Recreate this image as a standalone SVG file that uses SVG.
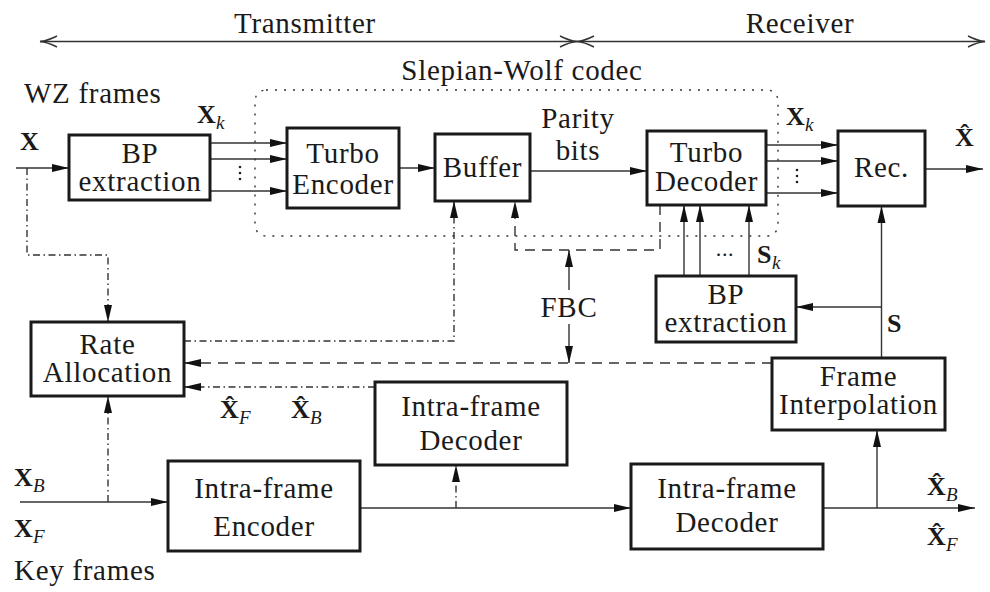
<svg xmlns="http://www.w3.org/2000/svg" width="990" height="592" viewBox="0 0 990 592" font-family="'Liberation Serif','DejaVu Serif',serif">
<style>
text{font-family:"Liberation Serif","DejaVu Serif",serif;fill:#1a1a1a}
.t{font-size:29px;text-anchor:middle;letter-spacing:0.7px}
.tl{font-size:29px;letter-spacing:0.7px}
.m{font-size:26px;font-weight:bold}
.s{font-size:19px;font-style:italic;font-weight:normal}
.box{fill:#fff;stroke:#1a1a1a;stroke-width:3}
.c{fill:none;stroke:#333;stroke-width:1.4}
.dd{stroke-dasharray:7 3.5 1.5 3.5}
.da{stroke-dasharray:10 7}
.dot{fill:none;stroke:#333;stroke-width:1.4;stroke-dasharray:2 7}
</style>
<defs>
<marker id="a" markerUnits="userSpaceOnUse" markerWidth="18" markerHeight="10" viewBox="0 0 18 10" refX="17" refY="5" orient="auto">
<path d="M0,1 L17,5 L0,9 z" fill="#111"/>
</marker>
</defs>

<g id="scope">
<line class="c" x1="40" y1="41.5" x2="985" y2="41.5"/>
<path class="c" d="M57,36 Q47,41 40,41.5 Q47,42 57,47"/>
<path class="c" d="M560,36 Q570,41 577,41.5 Q570,42 560,47"/>
<path class="c" d="M594,36 Q584,41 577,41.5 Q584,42 594,47"/>
<path class="c" d="M968,36 Q978,41 985,41.5 Q978,42 968,47"/>
<text class="t" x="305" y="33">Transmitter</text>
<text class="t" x="800" y="33">Receiver</text>
</g>

<g id="swcodec">
<rect class="dot" x="255" y="90" width="523" height="146" rx="11"/>
<text class="t" x="522" y="80">Slepian-Wolf codec</text>
</g>

<g id="connectors">
<line class="c" x1="16" y1="168" x2="69" y2="168" marker-end="url(#a)"/>
<line class="c" x1="210" y1="143" x2="287" y2="143" marker-end="url(#a)"/>
<line class="c" x1="210" y1="159" x2="287" y2="159" marker-end="url(#a)"/>
<line class="c" x1="210" y1="191" x2="287" y2="191" marker-end="url(#a)"/>
<line class="c" x1="399" y1="168" x2="435" y2="168" marker-end="url(#a)"/>
<line class="c" x1="530" y1="171" x2="647" y2="171" marker-end="url(#a)"/>
<line class="c" x1="766" y1="145" x2="838" y2="145" marker-end="url(#a)"/>
<line class="c" x1="766" y1="161" x2="838" y2="161" marker-end="url(#a)"/>
<line class="c" x1="766" y1="193" x2="838" y2="193" marker-end="url(#a)"/>
<line class="c" x1="925" y1="169" x2="983" y2="169" marker-end="url(#a)"/>
<path class="c dd" d="M27,168 V255 H108 V322" marker-end="url(#a)"/>
<path class="c dd" d="M184,341 H454 V201" marker-end="url(#a)"/>
<path class="c da" d="M660,205 V250 H515 V201" marker-end="url(#a)"/>
<line class="c" x1="569" y1="290" x2="569" y2="250" marker-end="url(#a)"/>
<line class="c" x1="569" y1="324" x2="569" y2="363" marker-end="url(#a)"/>
<path class="c da" d="M772,363 H184" marker-end="url(#a)"/>
<path class="c dd" d="M375,387 H184" marker-end="url(#a)"/>
<line class="c" x1="684" y1="276" x2="684" y2="205" marker-end="url(#a)"/>
<line class="c" x1="700" y1="276" x2="700" y2="205" marker-end="url(#a)"/>
<line class="c" x1="749" y1="276" x2="749" y2="205" marker-end="url(#a)"/>
<line class="c" x1="881.5" y1="358" x2="881.5" y2="206" marker-end="url(#a)"/>
<line class="c" x1="881.5" y1="307" x2="796" y2="307" marker-end="url(#a)"/>
<line class="c" x1="20" y1="502" x2="168" y2="502" marker-end="url(#a)"/>
<path class="c dd" d="M108,502 V396" marker-end="url(#a)"/>
<line class="c" x1="360" y1="508" x2="631" y2="508" marker-end="url(#a)"/>
<path class="c dd" d="M456,508 V465" marker-end="url(#a)"/>
<line class="c" x1="823" y1="508" x2="975" y2="508" marker-end="url(#a)"/>
<line class="c" x1="877" y1="508" x2="877" y2="430" marker-end="url(#a)"/>
<g fill="#222">
<circle cx="240" cy="167" r="1.3"/><circle cx="240" cy="173" r="1.3"/><circle cx="240" cy="179" r="1.3"/>
<circle cx="797" cy="170" r="1.3"/><circle cx="797" cy="176" r="1.3"/><circle cx="797" cy="182" r="1.3"/>
</g>
<text class="t" x="725" y="256" style="font-size:22px">...</text>
</g>

<g id="bp1"><rect class="box" x="69" y="135" width="141" height="65"/>
<text class="t" x="140" y="163">BP</text><text class="t" x="140" y="191">extraction</text></g>
<g id="turboenc"><rect class="box" x="287" y="128" width="112" height="80"/>
<text class="t" x="343" y="163">Turbo</text><text class="t" x="343" y="194">Encoder</text></g>
<g id="buffer"><rect class="box" x="435" y="134" width="95" height="67"/>
<text class="t" x="482.5" y="177">Buffer</text></g>
<g id="turbodec"><rect class="box" x="647" y="131" width="119" height="74"/>
<text class="t" x="706.5" y="162">Turbo</text><text class="t" x="706.5" y="191">Decoder</text></g>
<g id="rec"><rect class="box" x="838" y="131" width="87" height="75"/>
<text class="t" x="881.5" y="177">Rec.</text></g>
<g id="bp2"><rect class="box" x="656" y="276" width="140" height="66"/>
<text class="t" x="726" y="304">BP</text><text class="t" x="726" y="332">extraction</text></g>
<g id="rate"><rect class="box" x="31" y="322" width="153" height="74"/>
<text class="t" x="107.5" y="354">Rate</text><text class="t" x="107.5" y="382">Allocation</text></g>
<g id="frameinterp"><rect class="box" x="772" y="358" width="173" height="72"/>
<text class="t" x="858.5" y="386">Frame</text><text class="t" x="858.5" y="414">Interpolation</text></g>
<g id="intradec1"><rect class="box" x="375" y="382" width="192" height="83"/>
<text class="t" x="471" y="416">Intra-frame</text><text class="t" x="471" y="450">Decoder</text></g>
<g id="intraenc"><rect class="box" x="168" y="461" width="192" height="90"/>
<text class="t" x="264" y="498">Intra-frame</text><text class="t" x="264" y="536">Encoder</text></g>
<g id="intradec2"><rect class="box" x="631" y="464" width="192" height="85"/>
<text class="t" x="727" y="498">Intra-frame</text><text class="t" x="727" y="532">Decoder</text></g>

<g id="labels">
<text class="tl" x="24" y="103">WZ frames</text>
<text class="m" x="20" y="150">X</text>
<text class="m" x="197" y="123">X</text><text class="s" x="216" y="129">k</text>
<text class="t" x="578" y="128">Parity</text>
<text class="t" x="578" y="160">bits</text>
<text class="m" x="786" y="125">X</text><text class="s" x="805" y="131">k</text>
<text class="m" x="955" y="146">X̂</text>
<text class="t" x="569" y="317">FBC</text>
<text class="m" x="757" y="263">S</text><text class="s" x="772" y="269">k</text>
<text class="m" x="887" y="332">S</text>
<text class="m" x="220" y="418">X̂</text><text class="s" x="239" y="424">F</text>
<text class="m" x="291" y="418">X̂</text><text class="s" x="310" y="424">B</text>
<text class="m" x="14" y="486">X</text><text class="s" x="33" y="492">B</text>
<text class="m" x="14" y="537">X</text><text class="s" x="33" y="543">F</text>
<text class="tl" x="14" y="580">Key frames</text>
<text class="m" x="927" y="495">X̂</text><text class="s" x="946" y="501">B</text>
<text class="m" x="927" y="545">X̂</text><text class="s" x="946" y="551">F</text>
</g>
</svg>
